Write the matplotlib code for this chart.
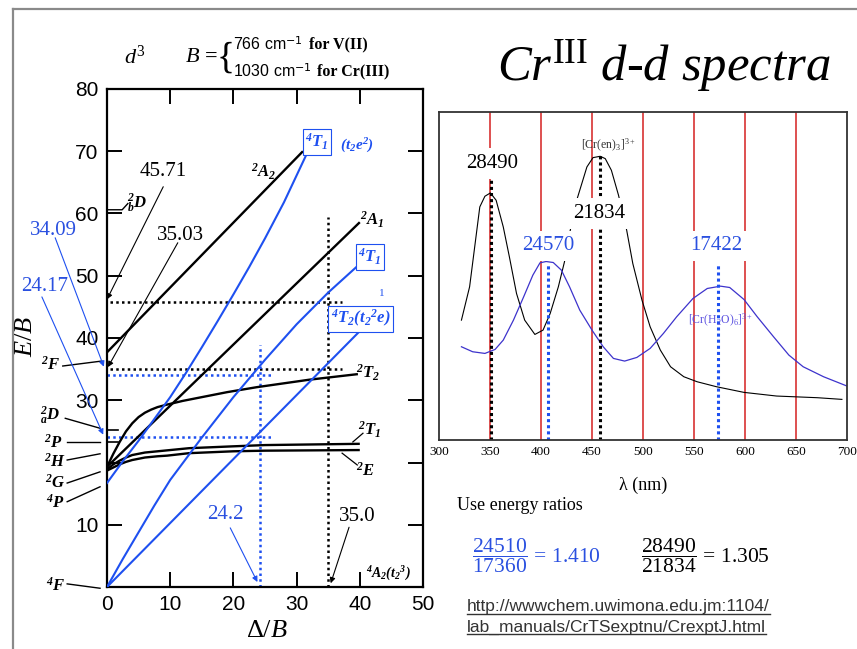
import numpy as np
import matplotlib.pyplot as plt
from matplotlib.lines import Line2D

plt.rcParams['font.family'] = 'Liberation Serif'
plt.rcParams['mathtext.fontset'] = 'custom'
plt.rcParams['mathtext.rm'] = 'Liberation Serif'
plt.rcParams['mathtext.it'] = 'Liberation Serif:italic'
plt.rcParams['mathtext.bf'] = 'Liberation Serif:italic:bold'

W, H = 857, 649
BLUE = '#1e50f0'
NUMBLUE = '#2a50e0'
VIOLET = '#3d33cc'
RED = '#d42020'

# ---- d3 Tanabe-Sugano levels (Delta/B, E/B) ----
q4T2_x = [0, 39.7]
q4T2_y = [0, 40.8]
q4T1F_x = [0, 2.5, 5, 7.5, 10, 15, 20, 25, 30, 35, 40]
q4T1F_y = [0, 4.5, 8.8, 13.1, 17.2, 24.0, 30.5, 36.5, 42.2, 47.3, 51.9]
q4T1P_x = [0, 2.5, 5, 7.5, 10, 12.5, 15, 17.5, 20, 22.5, 25, 28, 31.8]
q4T1P_y = [16.7, 20.2, 23.5, 27.0, 30.5, 34.4, 38.5, 42.7, 47.0, 51.4, 56.0, 61.8, 70.0]
d2A2_x = [0, 31.0]
d2A2_y = [37.7, 70.0]
d2A1_x = [0, 40.0]
d2A1_y = [19.3, 58.6]
d2T2_x = [0, 1, 2, 3, 4, 5, 6, 7, 8, 9.5, 12, 15, 19, 23.7, 32, 39.7]
d2T2_y = [19.3, 21.4, 23.3, 25.0, 26.3, 27.3, 28.0, 28.5, 28.9, 29.3, 29.9,
          30.5, 31.3, 32.1, 33.3, 34.2]
d2T1_x = [0, 1, 2, 3, 4, 6, 8, 9.5, 13, 20, 25, 40]
d2T1_y = [18.9, 19.7, 20.3, 20.8, 21.2, 21.6, 21.8, 21.95, 22.3, 22.6, 22.8, 23.0]
d2E_x = [0, 1, 2, 3, 4, 6, 8, 9.5, 13, 20, 25, 40]
d2E_y = [18.7, 19.2, 19.7, 20.1, 20.4, 20.8, 21.0, 21.1, 21.5, 21.8, 21.9, 22.0]

# band positions marked on the diagram
en_EB = [45.71, 35.03]      # E/B, [Cr(en)3]3+
aq_EB = [34.09, 24.17]      # E/B, [Cr(H2O)6]3+
en_DB = 35.0                # Delta/B
aq_DB = 24.2

y_ticklabels = ['', '10', '', '30', '40', '50', '60', '70', '80']
term_marks = [25.2, 23.3]

# ---- absorption spectra (wavelength nm, absorbance arb.) ----
en_nm = [322, 330, 340, 345, 350.4, 356, 363, 369, 376, 384, 394, 402, 409, 417,
         423, 428, 435, 440, 445, 451, 458, 463, 469, 476, 484, 490, 499, 507, 517,
         527, 540, 553, 572, 599, 631, 671, 695]
en_abs = [36, 46, 70, 73.2, 74.2, 72, 64, 55, 44, 36, 31.7, 33, 38, 46,
          53.5, 62, 72, 77, 82, 84.8, 85.2, 84.5, 81, 73.5, 63, 53, 42, 34, 27,
          22, 19, 17.5, 16, 14.3, 13.2, 12.7, 12.2]
aq_nm = [322, 333, 345, 355, 363, 373, 383, 392, 399, 405, 412, 420, 428, 438, 450,
         461, 471, 482, 494, 507, 520, 533, 549, 563, 576, 585, 599, 612, 628, 643,
         657, 677, 700]
aq_abs = [28, 26.5, 26, 27.2, 30, 36, 43, 49.5, 53.2, 53.6, 53.3, 51, 46, 39, 33,
          28, 24.5, 23.7, 24.8, 27.5, 32, 37, 42.5, 45.5, 46.2, 45.8, 42.2, 37, 31,
          25.5, 22, 19, 16.2]
red_nm = [350, 400, 450, 500, 550, 600, 650]
en_peaks = [28490, 21834]   # cm-1
aq_peaks = [24570, 17422]


def fx(px):
    return px / W


def fy(py):
    return 1 - py / H


fig = plt.figure(figsize=(W / 100, H / 100), dpi=100)

# slide frame
fig.add_artist(Line2D([fx(13), 1], [fy(9), fy(9)], color='#8a8a8a', lw=1.6))
fig.add_artist(Line2D([fx(13), fx(13)], [fy(9), 0], color='#8a8a8a', lw=1.6))

# ---------------- Tanabe-Sugano diagram ----------------
ax = fig.add_axes([fx(107), fy(587), fx(423) - fx(107), fy(89) - fy(587)])
ax.set_xlim(0, 50)
ax.set_ylim(0, 80)
ax.set_xticks(range(0, 51, 10))
ax.set_yticks(range(0, 81, 10))
ax.set_yticklabels(y_ticklabels)
ax.tick_params(direction='in', length=11, width=1.4, top=True, right=True,
               labelsize=15, pad=6)
for lbl in ax.get_xticklabels() + ax.get_yticklabels():
    lbl.set_fontfamily('Liberation Sans')
for s in ax.spines.values():
    s.set_linewidth(1.6)

ax.set_xlabel(r'$\Delta/B$', fontsize=19)
ax.xaxis.set_label_coords(0.506, -0.066)
ax.set_ylabel(r'$E/B$', fontsize=19)
ax.yaxis.set_label_coords(-0.222, 0.504)

for xs, ys in [(d2A2_x, d2A2_y), (d2A1_x, d2A1_y), (d2T2_x, d2T2_y),
               (d2T1_x, d2T1_y), (d2E_x, d2E_y)]:
    ax.plot(xs, ys, color='black', lw=1.7, solid_capstyle='butt',
            solid_joinstyle='round', zorder=3)
for xs, ys in [(q4T2_x, q4T2_y), (q4T1F_x, q4T1F_y), (q4T1P_x, q4T1P_y)]:
    ax.plot(xs, ys, color=BLUE, lw=1.5, solid_joinstyle='round', zorder=3)

for y in term_marks:
    ax.plot([0, 1.8], [y, y], color='black', lw=1.2)

dot = (0, (1, 1.3))
for y in en_EB:
    ax.plot([0.5, 37.2], [y, y], color='black', lw=1.8, ls=dot, zorder=2)
for y in aq_EB:
    ax.plot([0, 26.1], [y, y], color=BLUE, lw=1.8, ls=dot, zorder=2)
ax.plot([en_DB, en_DB], [0, 59.4], color='black', lw=1.8, ls=dot, zorder=2)
ax.plot([aq_DB, aq_DB], [0, 38.9], color=BLUE, lw=1.8, ls=dot, zorder=2)


def arrow(tip, tail, color):
    ax.annotate('', xy=tip, xytext=tail, annotation_clip=False,
                arrowprops=dict(arrowstyle='-|>', color=color, lw=0.8,
                                mutation_scale=8, shrinkA=0, shrinkB=0))


num_kw = dict(fontsize=15, ha='center', va='center', clip_on=False)
ax.text(8.9, 66.8, f'{en_EB[0]:.2f}', color='black', **num_kw)
arrow((0.0, en_EB[0] + 0.5), (8.9, 64.3), 'black')
ax.text(11.6, 56.5, f'{en_EB[1]:.2f}', color='black', **num_kw)
arrow((0.15, en_EB[1] + 0.3), (11.2, 55.3), 'black')
ax.text(-8.5, 57.3, f'{aq_EB[0]:.2f}', color=NUMBLUE, **num_kw)
arrow((-0.5, aq_EB[0] + 1.3), (-8.2, 56.1), BLUE)
ax.text(-9.8, 48.2, f'{aq_EB[1]:.2f}', color=NUMBLUE, **num_kw)
arrow((-0.6, aq_EB[1] + 0.3), (-10.3, 46.6), BLUE)
ax.text(18.8, 11.6, f'{aq_DB:.1f}', color=NUMBLUE, **num_kw)
arrow((aq_DB - 0.4, 0.8), (19.5, 9.5), BLUE)
ax.text(39.6, 11.4, f'{en_DB:.1f}', color='black', **num_kw)
arrow((en_DB + 0.4, 0.6), (38.3, 9.6), 'black')

# free-ion terms on the left
terms = [(r'$\mathbf{{}^2F}$', -9.0, 35.7, (-7.0, 35.5), (-0.8, 36.3)),
         (r'$\mathbf{{}^2_aD}$', -9.0, 27.6, (-6.6, 27.1), (-1.1, 25.5)),
         (r'$\mathbf{{}^2P}$', -8.5, 23.1, (-6.3, 23.3), (-1.1, 23.3)),
         (r'$\mathbf{{}^2H}$', -8.2, 20.1, (-6.3, 20.4), (-1.1, 21.4)),
         (r'$\mathbf{{}^2G}$', -8.2, 16.7, (-6.3, 16.7), (-1.1, 18.5)),
         (r'$\mathbf{{}^4P}$', -8.2, 13.5, (-6.3, 13.7), (-1.1, 16.1)),
         (r'$\mathbf{{}^4F}$', -8.2, 0.2, (-6.3, 0.5), (-1.1, -0.2))]
for lab, tx, ty, a, b in terms:
    ax.text(tx, ty, lab, fontsize=12, ha='center', va='center', clip_on=False)
    ax.plot([a[0], b[0]], [a[1], b[1]], color='black', lw=1.0, clip_on=False)
ax.text(4.7, 61.8, r'$\mathbf{{}^2_bD}$', fontsize=12, ha='center', va='center')
ax.plot([0, 2.4, 3.3], [60.6, 60.6, 61.6], color='black', lw=1.0)

# state labels
lab_kw = dict(fontsize=12, ha='center', va='center', clip_on=False)
ax.text(24.7, 66.7, r'$\mathbf{{}^2A_2}$', **lab_kw)
ax.text(41.9, 59.0, r'$\mathbf{{}^2A_1}$', **lab_kw)
ax.text(41.3, 34.4, r'$\mathbf{{}^2T_2}$', **lab_kw)
ax.text(41.6, 25.2, r'$\mathbf{{}^2T_1}$', **lab_kw)
ax.plot([38.9, 40.5], [23.3, 24.7], color='black', lw=0.9)
ax.text(40.8, 18.6, r'$\mathbf{{}^2E}$', **lab_kw)
ax.plot([37.2, 39.6], [21.5, 19.6], color='black', lw=0.9)
ax.text(44.5, 2.1, r'$\mathbf{{}^4A_2(t_2{}^3)}$', fontsize=10,
        ha='center', va='center')

box = dict(boxstyle='square,pad=0.15', fc='white', ec=BLUE, lw=0.8)
ax.text(33.2, 71.5, r'$\mathbf{{}^4T_1}$', color=BLUE, bbox=box, **lab_kw)
ax.text(39.6, 70.9, r'$\mathbf{(t_2e^2)}$', color=BLUE, fontsize=11,
        ha='center', va='center', clip_on=False)
ax.text(41.6, 53.0, r'$\mathbf{{}^4T_1}$', color=BLUE, bbox=box, **lab_kw)
ax.text(43.5, 47.2, '1', color=BLUE, fontsize=8, ha='center', va='center')
ax.text(40.1, 43.1, r'$\mathbf{{}^4T_2(t_2{}^2e)}$', color=BLUE, bbox=box,
        **lab_kw)

# header above the diagram
fig.text(fx(135), fy(57), r'$d^3$', fontsize=16, ha='center', va='center')
fig.text(fx(201), fy(57), r'$B$ =', fontsize=16, ha='center', va='center',
         fontweight='bold')
fig.text(fx(226), fy(58), '{', fontsize=27, ha='center', va='center',
         fontweight='light')
t1 = fig.text(fx(233), fy(44), r'766 cm$^{\mathsf{-1}}$', fontsize=11.5,
              fontfamily='Liberation Sans', va='center')
fig.add_artist(plt.Annotation('for V(II)', xy=(1, 0.5), xycoords=t1,
                              xytext=(4, 0), textcoords='offset points',
                              va='center', fontsize=11.5, fontweight='bold'))
t2 = fig.text(fx(233), fy(71), r'1030 cm$^{\mathsf{-1}}$', fontsize=11.5,
              fontfamily='Liberation Sans', va='center')
fig.add_artist(plt.Annotation('for Cr(III)', xy=(1, 0.5), xycoords=t2,
                              xytext=(4, 0), textcoords='offset points',
                              va='center', fontsize=11.5, fontweight='bold'))

# ---------------- spectra ----------------
ax2 = fig.add_axes([fx(439), fy(440), fx(847) - fx(439), fy(112) - fy(440)])
ax2.set_xlim(300, 700)
ax2.set_ylim(0, 98.5)
ax2.set_xticks(range(300, 701, 50))
ax2.set_yticks([])
ax2.tick_params(length=0, labelsize=9.5, pad=4)
for s in ax2.spines.values():
    s.set_linewidth(1.3)
    s.set_color('#333333')

for x in red_nm:
    ax2.axvline(x, color=RED, lw=1.1, zorder=1)
ax2.plot(en_nm, en_abs, color='black', lw=0.8, zorder=2)
ax2.plot(aq_nm, aq_abs, color=VIOLET, lw=0.9, zorder=2)

sdot = (0, (1, 1.0))
ax2.vlines(1e7 / en_peaks[0], 0, 78, color='black', lw=2.2, ls=sdot, zorder=2)
ax2.vlines(1e7 / en_peaks[1], 0, 86, color='black', lw=2.2, ls=sdot, zorder=2)
ax2.vlines(1e7 / aq_peaks[0], 0, 53, color=BLUE, lw=2.2, ls=sdot, zorder=2)
ax2.vlines(1e7 / aq_peaks[1], 0, 52.5, color=BLUE, lw=2.2, ls=sdot, zorder=2)

wbox = dict(fc='white', ec='none', pad=4)
ax2.text(351.6, 83, str(en_peaks[0]), fontsize=15, ha='center', va='center',
         bbox=wbox, zorder=4)
ax2.text(457, 68, str(en_peaks[1]), fontsize=15, ha='center', va='center',
         bbox=wbox, zorder=4)
ax2.text(407, 58.3, str(aq_peaks[0]), fontsize=15, color=NUMBLUE,
         ha='center', va='center', bbox=wbox, zorder=4)
ax2.text(572, 58.3, str(aq_peaks[1]), fontsize=15, color=NUMBLUE,
         ha='center', va='center', bbox=wbox, zorder=4)
ax2.text(466, 88.5, r'[Cr(en)$_3$]$^{3+}$', fontsize=8.5, color='#333333',
         ha='center', va='center', zorder=4)
ax2.text(575.6, 36, r'[Cr(H$_2$O)$_6$]$^{3+}$', fontsize=8.5, color='#5a50e0',
         ha='center', va='center', zorder=4)

fig.text(fx(643), fy(485), 'λ (nm)', fontsize=13, ha='center', va='center')

# title and notes
fig.text(fx(497), fy(66), r'$Cr^{\mathrm{III}}$ $d$-$d$ $spectra$', fontsize=36.5,
         ha='left', va='center')
fig.text(fx(457), fy(505), 'Use energy ratios', fontsize=13, ha='left',
         va='center')
fig.text(fx(472), fy(556), r'$\dfrac{24510}{17360}$ = 1.410', fontsize=15.5,
         color=NUMBLUE, ha='left', va='center')
fig.text(fx(641), fy(556), r'$\dfrac{28490}{21834}$ = 1.305', fontsize=15.5,
         color='black', ha='left', va='center')

url1 = fig.text(fx(467), fy(607), 'http://wwwchem.uwimona.edu.jm:1104/',
                fontsize=12.5, fontfamily='Liberation Sans', color='#333333',
                va='center')
url2 = fig.text(fx(467), fy(627), 'lab_manuals/CrTSexptnu/CrexptJ.html',
                fontsize=12.5, fontfamily='Liberation Sans', color='#333333',
                va='center')
renderer = fig.canvas.get_renderer()
inv = fig.transFigure.inverted()
for t in (url1, url2):
    bb = t.get_window_extent(renderer)
    (x0, y0), (x1, _) = inv.transform([(bb.x0, bb.y0 + 1), (bb.x1, bb.y0)])
    fig.add_artist(Line2D([x0, x1], [y0, y0], color='#333333', lw=1.0))

fig.savefig('out.png', dpi=100)
